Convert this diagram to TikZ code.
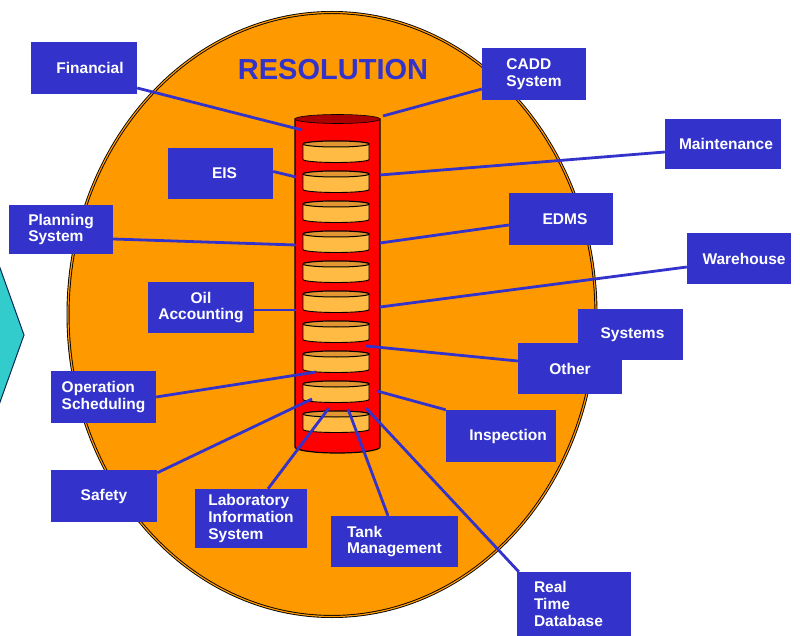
\documentclass[tikz,border=0pt]{standalone}
\usepackage{fontspec}
\setmainfont{Liberation Sans}
\definecolor{boxblue}{RGB}{51,51,204}
\definecolor{ovalorange}{RGB}{255,153,0}
\definecolor{cylred}{RGB}{255,0,0}
\definecolor{cyltop}{RGB}{170,0,0}
\definecolor{discfill}{RGB}{255,187,68}
\definecolor{disctop}{RGB}{225,150,50}
\definecolor{tealfill}{RGB}{51,204,204}
\definecolor{tealline}{RGB}{0,40,90}
\begin{document}
\begin{tikzpicture}[x=1pt,y=-1pt,
  sysbox/.style={fill=boxblue,text=white,inner sep=0pt,align=left,
    font=\fontsize{15.5}{16.8}\selectfont\bfseries},
  link/.style={draw=boxblue,line width=2.8pt}]
\useasboundingbox (0,0) rectangle (800,636);
\clip (0,0) rectangle (800,636);
% teal arrow at left
\draw[fill=tealfill,draw=tealline,line width=1pt] (-30,184) -- (24,335) -- (-30,486) -- cycle;
% big oval
\draw[fill=ovalorange,draw=black,line width=0.9pt,double=ovalorange,double distance=1.2pt] (332,314.5) ellipse [x radius=264, y radius=302];
\node[font=\fontsize{29}{30}\selectfont\bfseries,text=boxblue] (title) at (333,70) {RESOLUTION};
% cylinder
\draw[fill=cylred,draw=black,line width=1.2pt] (295,119) -- (295,447) arc[start angle=180,end angle=0,x radius=42.5,y radius=6] -- (380,119) -- cycle;
\draw[fill=cyltop,draw=black,line width=0.6pt] (337.5,119) ellipse [x radius=42.5, y radius=4.5];
\foreach \t in {141,171,...,411}{
  \draw[fill=discfill,draw=black,line width=0.9pt] (303,\t+3) -- (303,\t+18.5) arc[start angle=180,end angle=0,x radius=33,y radius=3] -- (369,\t+3) arc[start angle=0,end angle=-180,x radius=33,y radius=3] -- cycle;
  \draw[fill=disctop,draw=black,line width=1pt] (336,\t+3) ellipse [x radius=33, y radius=3];
}
% boxes
\node[sysbox,minimum width=106pt,minimum height=52pt] (fin) at (84,68) {\hspace*{12pt}Financial};
\node[sysbox,minimum width=104pt,minimum height=52pt] (cadd) at (534,74) {CADD\\System};
\node[sysbox,minimum width=116pt,minimum height=50pt] (maint) at (723,144) {\hspace*{6pt}Maintenance};
\node[sysbox,minimum width=105pt,minimum height=51pt] (eis) at (220.5,173.5) {\hspace*{8pt}EIS};
\node[sysbox,minimum width=104pt,minimum height=49pt] (plan) at (61,229.5) {Planning\\System};
\node[sysbox,minimum width=104pt,minimum height=52pt] (edms) at (561,219) {\hspace*{8pt}EDMS};
\node[sysbox,minimum width=104pt,minimum height=51pt] (ware) at (739,258.5) {\hspace*{10pt}Warehouse};
\node[sysbox,align=center,minimum width=106pt,minimum height=51pt] (oil) at (201,307.5) {Oil\\Accounting};
\node[sysbox,minimum width=105pt,minimum height=51pt] (sys) at (630.5,334.5) {\hspace*{4pt}Systems};
\node[sysbox,minimum width=104pt,minimum height=51pt] (other) at (570,368.5) {Other};
\node[sysbox,minimum width=105pt,minimum height=52pt] (ops) at (103.5,397) {Operation\\Scheduling};
\node[sysbox,minimum width=110pt,minimum height=52pt] (insp) at (501,436) {\hspace*{14pt}Inspection};
\node[sysbox,minimum width=106pt,minimum height=52pt] (safety) at (104,496) {Safety};
\node[sysbox,minimum width=112pt,minimum height=59pt] (lab) at (251,518.5) {Laboratory\\Information\\System};
\node[sysbox,minimum width=127pt,minimum height=51pt] (tank) at (394.5,541.5) {Tank\\Management};
\node[sysbox,minimum width=114pt,minimum height=64pt,text width=80pt] (rtd) at (574,604) {\raisebox{-5pt}{\parbox{80pt}{Real\\Time\\Database}}};
% connection points on the cylinder
\coordinate (c1) at (302,130);
\coordinate (c2) at (383,116);
\coordinate (c3) at (380,175);
\coordinate (c4) at (296,177);
\coordinate (c5) at (296,245);
\coordinate (c6) at (380,243);
\coordinate (c7) at (380,307);
\coordinate (c8) at (296,310);
\coordinate (c10) at (366,346);
\coordinate (c11) at (316,372);
\coordinate (c12) at (377,391);
\coordinate (c13) at (312,399);
\coordinate (c14) at (329,408);
\coordinate (c15) at (348,409);
\coordinate (c16) at (366,408);
% connectors
\draw[link] (c1) -- ([yshift=-20pt]fin.east);
\draw[link] (c2) -- ([yshift=-15pt]cadd.west);
\draw[link] (c3) -- ([yshift=-8pt]maint.west);
\draw[link] (c4) -- ([yshift=2pt]eis.east);
\draw[link] (c5) -- ([yshift=-9.5pt]plan.east);
\draw[link] (c6) -- ([yshift=-6pt]edms.west);
\draw[link] (c7) -- ([yshift=-8.5pt]ware.west);
\draw[link] (c8) -- ([yshift=-2.5pt]oil.east);
\draw[link] (c10) -- ([yshift=7.5pt]other.west);
\draw[link] (c11) -- (ops.east);
\draw[link] (c12) -- (insp.north west);
\draw[link] (c13) -- ([yshift=-3pt]safety.north east);
\draw[link] (c14) -- ([xshift=17pt]lab.north);
\draw[link] (c15) -- ([xshift=-6.5pt]tank.north);
\draw[link] (c16) -- ([xshift=2pt]rtd.north west);
\end{tikzpicture}
\end{document}
